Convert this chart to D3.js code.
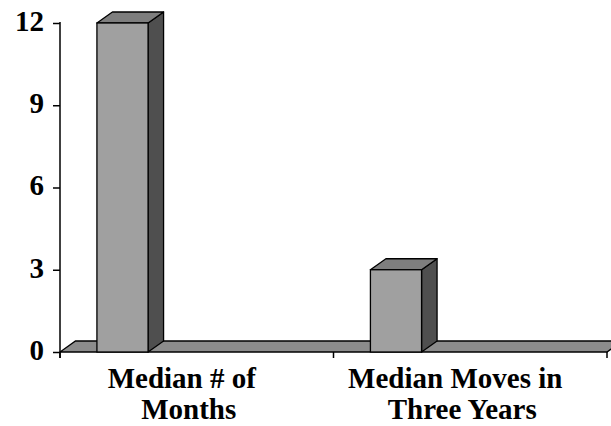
<!DOCTYPE html>
<html>
<head>
<meta charset="utf-8">
<script src="https://cdn.jsdelivr.net/npm/d3@7"></script>
<style>
  html, body { margin: 0; padding: 0; background: #fff; }
  svg { display: block; }
  text { font-family: "Liberation Serif", "Times New Roman", serif; font-weight: bold; fill: #000; }
</style>
</head>
<body>
<svg id="chart" width="611" height="426"></svg>
<script>
// ---- data ----
const categories = ["Median # of Months", "Median Moves in Three Years"];
const labelLines = [["Median # of", "Months"], ["Median Moves in", "Three Years"]];
const values = [12, 3];
const yTicks = [0, 3, 6, 9, 12];

// ---- layout ----
const W = 611, H = 426;
const plot = { left: 60, right: 607, top: 23, bottom: 352 };
const depth = { dx: 15.5, dy: 11 };

const svg = d3.select("#chart");

const x = d3.scaleBand().domain(categories).range([plot.left, plot.right]).paddingInner(0).paddingOuter(0);
const y = d3.scaleLinear().domain([0, 12]).range([plot.bottom, plot.top]);

const barOffset = 0.135, barWidthFrac = 0.187;

const colors = { front: "#a0a0a0", top: "#7e7e7e", side: "#4f4f4f", floor: "#8c8c8c" };

// floor
const fy = y(0);
svg.append("path")
  .attr("d", `M${plot.left},${fy} L${plot.right},${fy} L${plot.right + depth.dx},${fy - depth.dy} L${plot.left + depth.dx},${fy - depth.dy} Z`)
  .attr("fill", colors.floor).attr("stroke", "#000").attr("stroke-width", 1.3);

// y axis
const yAxis = d3.axisLeft(y).tickValues(yTicks).tickSize(7).tickPadding(9).tickFormat(d3.format("d"));
const gy = svg.append("g").attr("transform", `translate(${plot.left},0)`).call(yAxis);
gy.select(".domain").attr("d", `M0,${plot.top - 1}V${plot.bottom + 6}`).attr("stroke", "#000").attr("stroke-width", 1.5);
gy.selectAll(".tick line").attr("stroke", "#000").attr("stroke-width", 1.5);
gy.selectAll(".tick text").attr("font-size", 29).attr("font-family", "Liberation Serif, serif").attr("font-weight", "bold")
  .attr("dy", "0.25em").attr("x", -16);

// x axis ticks (category boundaries)
const xBounds = categories.map(c => x(c)).concat([plot.right]);
svg.append("g").selectAll("line").data(xBounds).join("line")
  .attr("x1", d => d).attr("x2", d => d)
  .attr("y1", fy).attr("y2", fy + 6)
  .attr("stroke", "#000").attr("stroke-width", 1.5);

// bars
const bars = svg.append("g").selectAll("g").data(values).join("g");
bars.each(function(v, i) {
  const g = d3.select(this);
  const x0 = x(categories[i]) + x.bandwidth() * barOffset;
  const bw = x.bandwidth() * barWidthFrac;
  const x1 = x0 + bw;
  const yt = y(v), yb = y(0);
  const dx = depth.dx, dy = depth.dy;
  // side
  g.append("path")
    .attr("d", `M${x1},${yt} L${x1 + dx},${yt - dy} L${x1 + dx},${yb - dy} L${x1},${yb} Z`)
    .attr("fill", colors.side).attr("stroke", "#000").attr("stroke-width", 1.3).attr("stroke-linejoin", "round");
  // top
  g.append("path")
    .attr("d", `M${x0},${yt} L${x0 + dx},${yt - dy} L${x1 + dx},${yt - dy} L${x1},${yt} Z`)
    .attr("fill", colors.top).attr("stroke", "#000").attr("stroke-width", 1.3).attr("stroke-linejoin", "round");
  // front
  g.append("rect")
    .attr("x", x0).attr("y", yt).attr("width", bw).attr("height", yb - yt)
    .attr("fill", colors.front).attr("stroke", "#000").attr("stroke-width", 1.3);
});

// category labels
const lab = svg.append("g").selectAll("text").data(categories).join("text")
  .attr("font-size", 29).attr("text-anchor", "middle");
lab.each(function(c, i) {
  const t = d3.select(this);
  const cx = x(c) + x.bandwidth() / 2;
  labelLines[i].forEach((ln, j) => {
    t.append("tspan").attr("x", cx - (j === 0 ? 15 : 8)).attr("y", 388 + j * 31).text(ln);
  });
});
</script>
</body>
</html>
